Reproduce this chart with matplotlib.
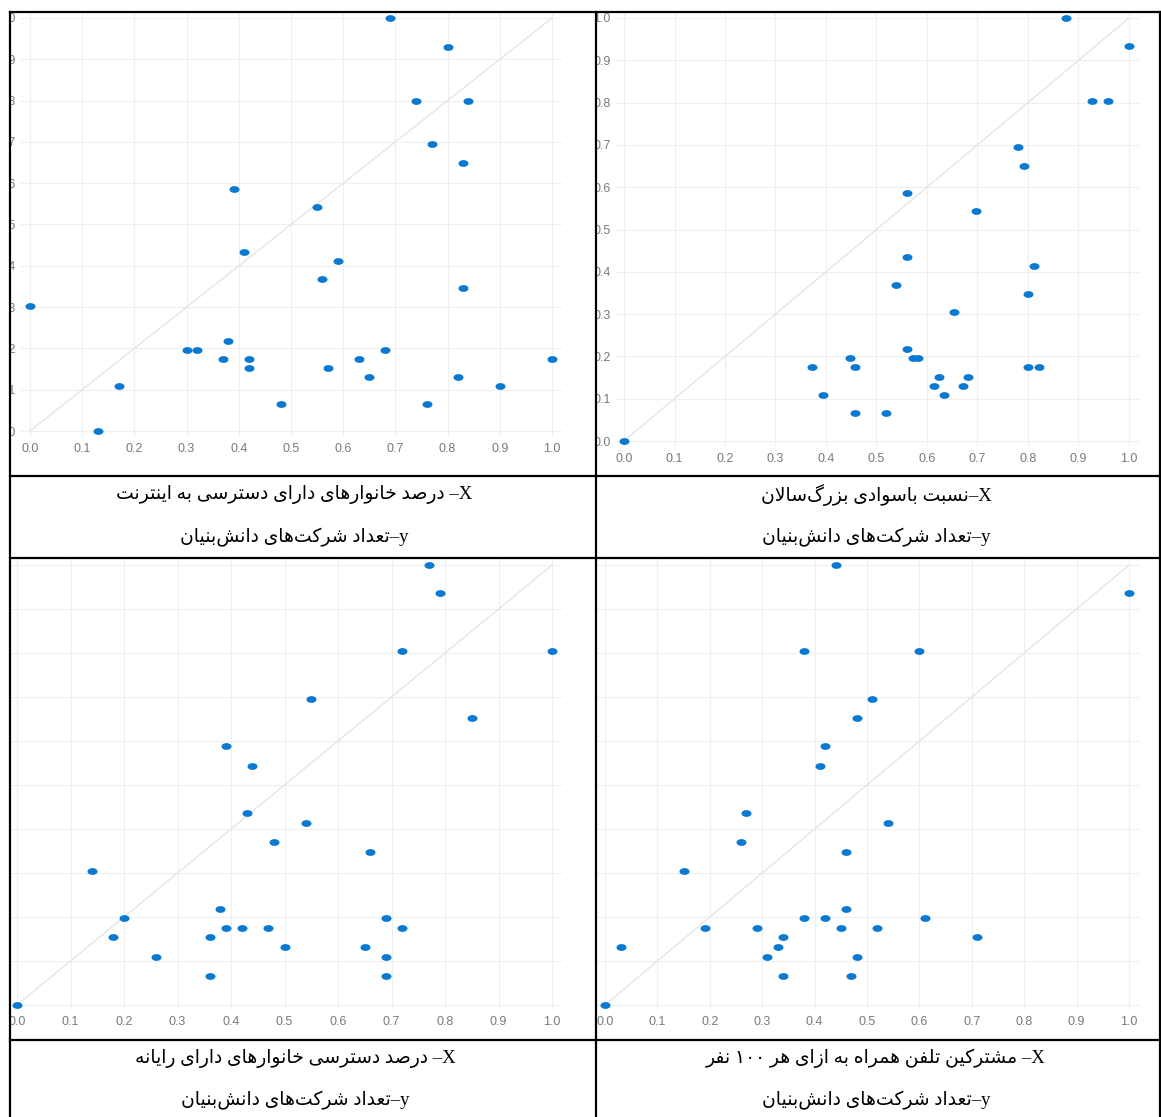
import re
import numpy as np
import matplotlib
matplotlib.use("Agg")
import matplotlib.pyplot as plt
from matplotlib.patches import Rectangle
from matplotlib.lines import Line2D
from matplotlib.path import Path
from matplotlib.ticker import FormatStrFormatter

# ---------------- data ----------------
# chart 1: internet access vs knowledge-based companies
x_internet = [0.69, 0.80, 0.74, 0.84, 0.77, 0.83, 0.39, 0.55, 0.41, 0.59, 0.56, 0.83, 0.00, 0.30, 0.32,
              0.38, 0.37, 0.42, 0.42, 0.57, 0.63, 0.68, 0.65, 1.00, 0.17, 0.90, 0.82, 0.48, 0.76, 0.13]
y_internet = [1.00, 0.93, 0.80, 0.80, 0.695, 0.65, 0.586, 0.542, 0.433, 0.412, 0.368, 0.346, 0.303, 0.196, 0.196,
              0.218, 0.174, 0.174, 0.153, 0.153, 0.174, 0.196, 0.131, 0.174, 0.109, 0.109, 0.131, 0.065, 0.065, 0.00]

# chart 2: adult literacy vs knowledge-based companies
x_literacy = [0.875, 1.00, 0.927, 0.958, 0.78, 0.792, 0.56, 0.697, 0.56, 0.812, 0.539, 0.80, 0.653, 0.56, 0.572,
              0.582, 0.447, 0.372, 0.457, 0.624, 0.681, 0.80, 0.822, 0.614, 0.671, 0.394, 0.634, 0.457, 0.519, 0.00]
y_literacy = [1.00, 0.934, 0.804, 0.804, 0.695, 0.65, 0.586, 0.544, 0.435, 0.414, 0.369, 0.348, 0.305, 0.217, 0.196,
              0.196, 0.196, 0.175, 0.175, 0.151, 0.151, 0.175, 0.175, 0.130, 0.130, 0.109, 0.109, 0.066, 0.066, 0.00]

# chart 3: households with a computer vs knowledge-based companies
x_computer = [0.77, 0.79, 0.72, 1.00, 0.85, 0.55, 0.39, 0.44, 0.43, 0.54, 0.48, 0.66, 0.14, 0.20, 0.38,
              0.18, 0.36, 0.39, 0.42, 0.47, 0.50, 0.26, 0.36, 0.65, 0.69, 0.72, 0.69, 0.69, 0.00]
y_computer = [1.00, 0.936, 0.805, 0.805, 0.652, 0.695, 0.589, 0.543, 0.436, 0.414, 0.370, 0.348, 0.305, 0.198, 0.218,
              0.155, 0.155, 0.175, 0.175, 0.175, 0.132, 0.109, 0.066, 0.132, 0.198, 0.175, 0.109, 0.066, 0.00]

# chart 4: mobile subscribers per 100 people vs knowledge-based companies
x_mobile = [0.44, 1.00, 0.38, 0.60, 0.51, 0.48, 0.42, 0.41, 0.27, 0.54, 0.26, 0.46, 0.15, 0.38, 0.42,
            0.46, 0.61, 0.19, 0.29, 0.45, 0.52, 0.34, 0.33, 0.03, 0.31, 0.48, 0.71, 0.34, 0.47, 0.00]
y_mobile = [1.00, 0.936, 0.805, 0.805, 0.695, 0.652, 0.589, 0.543, 0.436, 0.414, 0.370, 0.348, 0.305, 0.198, 0.198,
            0.218, 0.198, 0.175, 0.175, 0.175, 0.175, 0.155, 0.132, 0.132, 0.109, 0.109, 0.155, 0.066, 0.066, 0.00]

tick_values = [0.0, 0.1, 0.2, 0.3, 0.4, 0.5, 0.6, 0.7, 0.8, 0.9, 1.0]

caption_x = ["درصد خانوارهای دارای دسترسی به اینترنت",
             "نسبت باسوادی بزرگ\u200cسالان",
             "درصد دسترسی خانوارهای دارای رایانه",
             "مشترکین تلفن همراه به ازای هر \u06f1\u06f0\u06f0 نفر"]
caption_y = "تعداد شرکت\u200cهای دانش\u200cبنیان"

# ---------------- simple Persian shaping ----------------
FORMS = {
    '\u0627': ('\uFE8D', '\uFE8E', None, None),
    '\u0628': ('\uFE8F', '\uFE90', '\uFE91', '\uFE92'),
    '\u062A': ('\uFE95', '\uFE96', '\uFE97', '\uFE98'),
    '\u062E': ('\uFEA5', '\uFEA6', '\uFEA7', '\uFEA8'),
    '\u062F': ('\uFEA9', '\uFEAA', None, None),
    '\u0631': ('\uFEAD', '\uFEAE', None, None),
    '\u0632': ('\uFEAF', '\uFEB0', None, None),
    '\u0633': ('\uFEB1', '\uFEB2', '\uFEB3', '\uFEB4'),
    '\u0634': ('\uFEB5', '\uFEB6', '\uFEB7', '\uFEB8'),
    '\u0635': ('\uFEB9', '\uFEBA', '\uFEBB', '\uFEBC'),
    '\u0639': ('\uFEC9', '\uFECA', '\uFECB', '\uFECC'),
    '\u0641': ('\uFED1', '\uFED2', '\uFED3', '\uFED4'),
    '\u0644': ('\uFEDD', '\uFEDE', '\uFEDF', '\uFEE0'),
    '\u0645': ('\uFEE1', '\uFEE2', '\uFEE3', '\uFEE4'),
    '\u0646': ('\uFEE5', '\uFEE6', '\uFEE7', '\uFEE8'),
    '\u0647': ('\uFEE9', '\uFEEA', '\uFEEB', '\uFEEC'),
    '\u0648': ('\uFEED', '\uFEEE', None, None),
    '\u06CC': ('\uFBFC', '\uFBFD', '\uFBFE', '\uFBFF'),
    '\u06A9': ('\uFB8E', '\uFB8F', '\uFB90', '\uFB91'),
    '\u06AF': ('\uFB92', '\uFB93', '\uFB94', '\uFB95'),
}


def shape(s):
    out = []
    n = len(s)
    i = 0
    while i < n:
        c = s[i]
        if c not in FORMS:
            if c != '\u200c':
                out.append(c)
            i += 1
            continue
        prev = s[i - 1] if i > 0 else None
        join_prev = prev in FORMS and FORMS[prev][2] is not None
        if c == '\u0644' and i + 1 < n and s[i + 1] == '\u0627':
            out.append('\uFEFC' if join_prev else '\uFEFB')
            i += 2
            continue
        nxt = s[i + 1] if i + 1 < n else None
        join_next = FORMS[c][2] is not None and nxt in FORMS
        iso, fin, ini, med = FORMS[c]
        if join_prev and join_next:
            out.append(med)
        elif join_prev:
            out.append(fin)
        elif join_next:
            out.append(ini)
        else:
            out.append(iso)
        i += 1
    return ''.join(out)


def visual(s):
    rev = shape(s)[::-1]
    return re.sub(r'[\u06F0-\u06F90-9]+', lambda m: m.group(0)[::-1], rev)


# ---------------- figure ----------------
W, H = 1161, 1117
fig = plt.figure(figsize=(W / 100, H / 100), dpi=100)
fig.patch.set_facecolor('white')

BLUE = '#0a79d2'
theta = np.linspace(0, 2 * np.pi, 41)
ellipse = Path(np.column_stack([np.cos(theta), 0.68 * np.sin(theta)]), closed=True)

# (left, top, right, bottom, x0px, x1px, y0px, y1px, show y labels)
panels = [
    (21, 12, 562, 437, 30, 552, 431, 18, True, x_internet, y_internet),
    (616, 12, 1140, 447, 624, 1129, 441, 18, True, x_literacy, y_literacy),
    (10, 558, 562, 1010, 17, 552, 1005, 565, False, x_computer, y_computer),
    (597, 558, 1140, 1010, 605, 1129, 1005, 565, False, x_mobile, y_mobile),
]

for (l, t, r, b, x0, x1, y0, y1, showy, xs, ys) in panels:
    ax = fig.add_axes([l / W, 1 - b / H, (r - l) / W, (b - t) / H])
    sx = x1 - x0
    sy = y0 - y1
    ax.set_xlim(-(x0 - l) / sx, 1 + (r - x1) / sx)
    ax.set_ylim(-(b - y0) / sy, 1 + (y1 - t) / sy)
    for sp in ax.spines.values():
        sp.set_visible(False)
    ax.set_xticks(tick_values)
    ax.set_yticks(tick_values)
    ax.xaxis.set_major_formatter(FormatStrFormatter('%.1f'))
    ax.yaxis.set_major_formatter(FormatStrFormatter('%.1f'))
    ax.tick_params(length=0, colors='#7a7a7a', labelsize=9, pad=4)
    for lab in ax.get_xticklabels() + ax.get_yticklabels():
        lab.set_family('Liberation Sans')
    if not showy:
        ax.tick_params(axis='y', labelleft=False)
    ax.grid(True, color='#efefef', linewidth=0.8)
    ax.set_axisbelow(True)
    ax.plot([0, 1], [0, 1], color='#e0e0e0', linewidth=0.8, zorder=1)
    ax.scatter(xs, ys, marker=ellipse, s=7.2 ** 2, color=BLUE, linewidths=0, zorder=3)

# white masks where the table cells clip the chart images
fig.add_artist(Rectangle((0, 0), 10 / W, 1, transform=fig.transFigure,
                         facecolor='white', edgecolor='none', zorder=20))
fig.add_artist(Rectangle((563 / W, 0), 33 / W, 1, transform=fig.transFigure,
                         facecolor='white', edgecolor='none', zorder=20))
fig.add_artist(Rectangle((0, 1 - 12 / H), 1, 12 / H, transform=fig.transFigure,
                         facecolor='white', edgecolor='none', zorder=20))
for (ytop, ybot) in [(476, 558), (1040, 1117)]:
    fig.add_artist(Rectangle((0, 1 - ybot / H), 1, (ybot - ytop) / H, transform=fig.transFigure,
                             facecolor='white', edgecolor='none', zorder=20))

# table borders
LW = 1.6
def hline(y, x0=10, x1=1160):
    fig.add_artist(Line2D([x0 / W, x1 / W], [1 - y / H, 1 - y / H], transform=fig.transFigure,
                          color='black', linewidth=LW, zorder=30, solid_capstyle='projecting'))
def vline(x, y0=12, y1=1117):
    fig.add_artist(Line2D([x / W, x / W], [1 - y0 / H, 1 - y1 / H], transform=fig.transFigure,
                          color='black', linewidth=LW, zorder=30, solid_capstyle='projecting'))

for y in (12, 476, 558, 1040):
    hline(y)
for x in (10, 596, 1159.5):
    vline(x)

# captions
FAM = ['Liberation Serif', 'DejaVu Sans']
caps = [
    (294, 495, 537, caption_x[0], ' '),
    (876, 495, 537, caption_x[1], ''),
    (295, 1058, 1100, caption_x[2], ' '),
    (876, 1058, 1100, caption_x[3], ' '),
]
for (cx, ya, yb, cap, sep) in caps:
    fig.text(cx / W, 1 - ya / H, visual(cap) + sep + '\u2013X', ha='center', va='center',
             fontsize=13.5, family=FAM, color='black', zorder=40)
    fig.text(cx / W, 1 - yb / H, visual(caption_y) + '\u2013y', ha='center', va='center',
             fontsize=13.5, family=FAM, color='black', zorder=40)

fig.savefig('out.png', dpi=100, facecolor='white')
